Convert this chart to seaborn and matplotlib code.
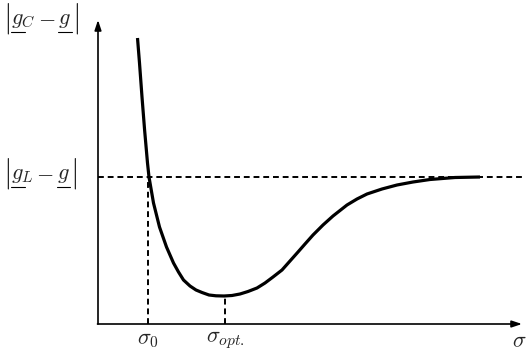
import matplotlib
matplotlib.use("Agg")
import matplotlib.pyplot as plt
from matplotlib.lines import Line2D
from matplotlib.transforms import IdentityTransform
import seaborn as sns
import pandas as pd

# curve (sigma, |g_C - g|), arbitrary units
sigma = [0.395, 0.415, 0.44, 0.466, 0.495, 0.51, 0.555, 0.615, 0.685, 0.755,
         0.805, 0.855, 0.92, 0.98, 1.04, 1.11, 1.18, 1.26, 1.34, 1.42, 1.50,
         1.59, 1.67, 1.75, 1.84, 1.92, 2.00, 2.07, 2.15, 2.25, 2.35, 2.49,
         2.59, 2.69, 2.84, 2.99, 3.15, 3.32, 3.57, 3.82]
error = [2.86, 2.61, 2.27, 1.94, 1.61, 1.47, 1.21, 0.97, 0.77, 0.61,
         0.52, 0.44, 0.38, 0.34, 0.315, 0.29, 0.282, 0.28, 0.285, 0.30, 0.325,
         0.36, 0.41, 0.47, 0.54, 0.63, 0.72, 0.80, 0.89, 0.99, 1.08, 1.19,
         1.25, 1.30, 1.35, 1.39, 1.42, 1.445, 1.465, 1.47]

g_L_level = 1.47      # |g_L - g|
sigma_0 = 0.50
sigma_opt = 1.27
err_opt = 0.28

label_subs = ["C", "L"]          # |g_C - g| and |g_L - g|
x_label = r"$\sigma$"
tick_labels = [r"$\sigma_0$", r"$\sigma_{opt.}$"]

sns.set_style("white")
plt.rcParams["mathtext.fontset"] = "cm"

fig = plt.figure(figsize=(5.29, 3.56), dpi=100)
ax = fig.add_axes([0, 0, 1, 1])
ax.set_xlim(-0.98, 4.31)
ax.set_ylim(-0.32, 3.24)
ax.axis("off")

df = pd.DataFrame({"sigma": sigma, "error": error})
sns.lineplot(data=df, x="sigma", y="error", sort=False, color="black",
             linewidth=2.3, ax=ax, legend=False,
             solid_joinstyle="round", solid_capstyle="butt")

# axes with arrows
arrow = dict(arrowstyle="-|>,head_length=0.6,head_width=0.2", color="black",
             lw=1.2, shrinkA=0, shrinkB=0)
ax.annotate("", xy=(0, 3.04), xytext=(0, 0), arrowprops=arrow)
ax.annotate("", xy=(4.24, 0), xytext=(-0.005, 0), arrowprops=arrow)

# dashed guides
dash = dict(color="black", linestyle=(0, (3, 2)), linewidth=1.4)
ax.plot([0, 4.27], [g_L_level, g_L_level], **dash)
ax.plot([sigma_0, sigma_0], [0, g_L_level], **dash)
ax.plot([sigma_opt, sigma_opt], [0, err_opt], **dash)

fs = 16
em = fs * 100 / 72.0
renderer = fig.canvas.get_renderer()


def norm_label(x, y, sub):
    """Draw |g_sub - g| with underlined g's (mathtext has no \\underline)."""
    px, py = ax.transData.transform((x, y))
    pieces = [(r"$|$", 1.4, -0.1 * em, False, 0.04),
              (r"$g_{%s}$" % sub, 1.0, 0, True, 0.12),
              (r"$-$", 1.0, 0, False, 0.14),
              (r"$g$", 1.0, 0, True, 0.04),
              (r"$|$", 1.4, -0.1 * em, False, 0)]
    probe = fig.text(0, 0, r"$g$", fontsize=fs)
    gw = probe.get_window_extent(renderer).width
    probe.remove()
    for s, scale, dy, under, gap in pieces:
        t = fig.text(px, py + dy, s, fontsize=fs * scale, ha="left",
                     va="baseline", transform=IdentityTransform())
        w = t.get_window_extent(renderer).width
        if under:
            uy = py - 0.36 * em
            fig.add_artist(Line2D([px, px + gw + 1], [uy, uy], color="black",
                                  linewidth=0.8, transform=IdentityTransform()))
        px += w + gap * em


norm_label(-0.95, 3.00, label_subs[0])
norm_label(-0.95, 1.45, label_subs[1])
ax.text(sigma_0, -0.16, tick_labels[0], fontsize=fs, ha="center", va="center")
ax.text(sigma_opt, -0.16, tick_labels[1], fontsize=fs, ha="center", va="center")
ax.text(4.21, -0.17, x_label, fontsize=fs, ha="center", va="center")

fig.savefig("out.png", dpi=100)
